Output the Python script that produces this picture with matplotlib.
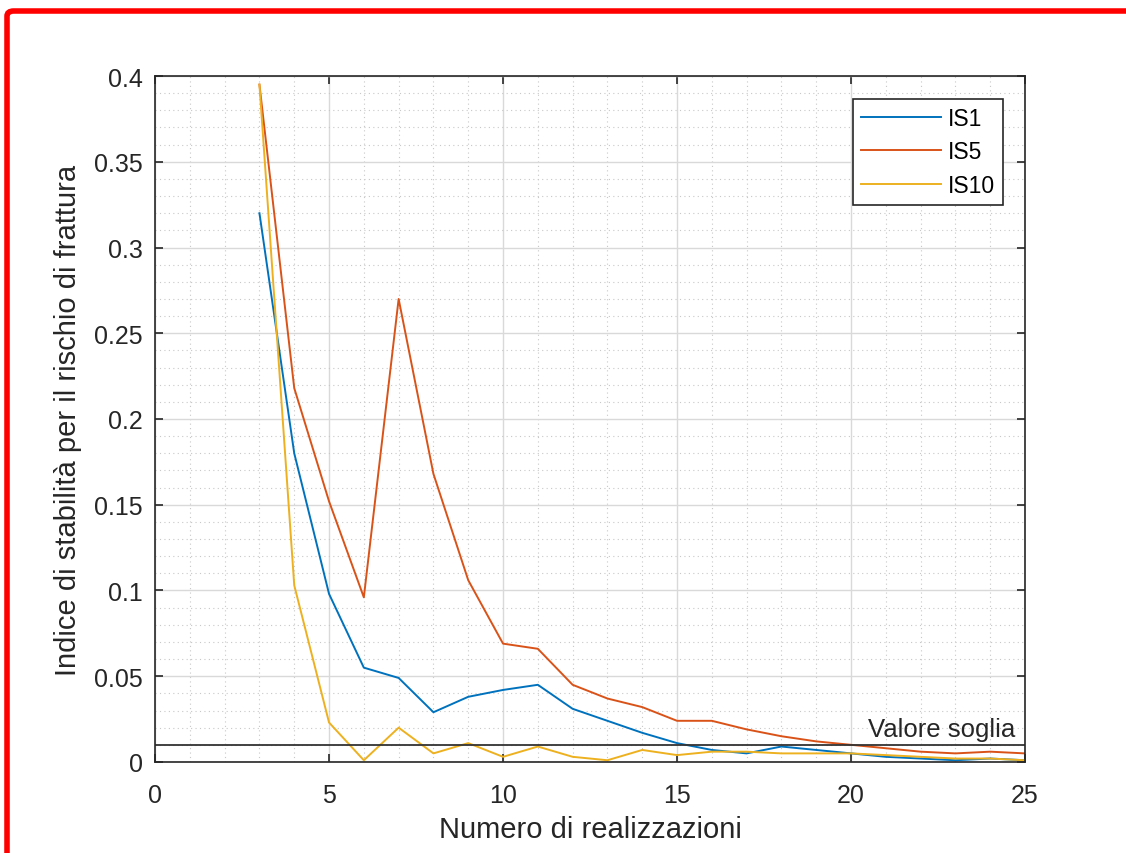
import numpy as np
import matplotlib.pyplot as plt
from matplotlib.patches import FancyBboxPatch
from matplotlib.ticker import MultipleLocator

plt.rcParams['font.family'] = ['Liberation Sans', 'DejaVu Sans']

# data
x = list(range(3, 26))
is1 = [0.320, 0.180, 0.098, 0.055, 0.049, 0.029, 0.038, 0.042, 0.045, 0.031, 0.024,
       0.017, 0.011, 0.007, 0.005, 0.009, 0.007, 0.005, 0.003, 0.002, 0.001, 0.002, 0.001]
is5 = [0.395, 0.218, 0.152, 0.096, 0.270, 0.168, 0.106, 0.069, 0.066, 0.045, 0.037,
       0.032, 0.024, 0.024, 0.019, 0.015, 0.012, 0.010, 0.008, 0.006, 0.005, 0.006, 0.005]
is10 = [0.395, 0.103, 0.023, 0.001, 0.020, 0.005, 0.011, 0.003, 0.009, 0.003, 0.001,
        0.007, 0.004, 0.006, 0.006, 0.005, 0.005, 0.005, 0.004, 0.003, 0.002, 0.002, 0.001]
soglia = 0.01

fig = plt.figure(figsize=(11.26, 8.54), dpi=100)
ax = fig.add_axes([0.1377, 0.1066, 0.7726, 0.8032])

ax.plot(x, is1, color='#0072BD', lw=1.4, label='IS1')
ax.plot(x, is5, color='#D95319', lw=1.4, label='IS5')
ax.plot(x, is10, color='#EDB120', lw=1.4, label='IS10')
ax.axhline(soglia, color='#333333', lw=1.3)
ax.text(24.71, 0.0152, 'Valore soglia', ha='right', va='baseline', fontsize=18.5, color='#262626')

ax.set_xlim(0, 25)
ax.set_ylim(0, 0.4)
ax.xaxis.set_major_locator(MultipleLocator(5))
ax.xaxis.set_minor_locator(MultipleLocator(1))
ax.yaxis.set_minor_locator(MultipleLocator(0.01))
ax.set_yticks([0, 0.05, 0.1, 0.15, 0.2, 0.25, 0.3, 0.35, 0.4])
ax.set_yticklabels(['0', '0.05', '0.1', '0.15', '0.2', '0.25', '0.3', '0.35', '0.4'])

ax.grid(which='major', color='#d9d9d9', lw=1.0)
ax.grid(which='minor', color='#c8c8c8', lw=0.8, ls=(0, (1, 3)))
ax.set_axisbelow(True)
ax.tick_params(which='both', direction='in', top=True, right=True, colors='#262626',
               labelsize=18)
ax.tick_params(which='major', length=6, width=1.2)
ax.tick_params(which='minor', length=0)
ax.tick_params(axis='y', pad=9)
ax.tick_params(axis='x', pad=15)
for s in ax.spines.values():
    s.set_color('#262626')
    s.set_linewidth(1.2)

ax.set_xlabel('Numero di realizzazioni', fontsize=21, color='#262626')
ax.set_ylabel('Indice di stabilità per il rischio di frattura', fontsize=21, color='#262626')
ax.xaxis.set_label_coords(0.5, -0.0977)
ax.yaxis.set_label_coords(-0.1, 0.5)
ax.xaxis.label.set_va('center')
ax.yaxis.label.set_va('center')

leg = ax.legend(loc='upper right', bbox_to_anchor=(0.9747, 0.9665), fontsize=16.5,
                fancybox=False, edgecolor='#262626', framealpha=1, borderaxespad=0,
                handlelength=3.5, handletextpad=0.3, labelspacing=0.45, borderpad=0.35)
leg.get_frame().set_linewidth(1.2)

# red frame around the screenshot
frame = FancyBboxPatch((7 / 1126, -0.1), 1.2, (854 - 12) / 854 + 0.1,
                       boxstyle='round,pad=0,rounding_size=0.006',
                       transform=fig.transFigure, fill=False, edgecolor='red', lw=4,
                       clip_on=False)
fig.patches.append(frame)

fig.savefig('out.png', dpi=100)
